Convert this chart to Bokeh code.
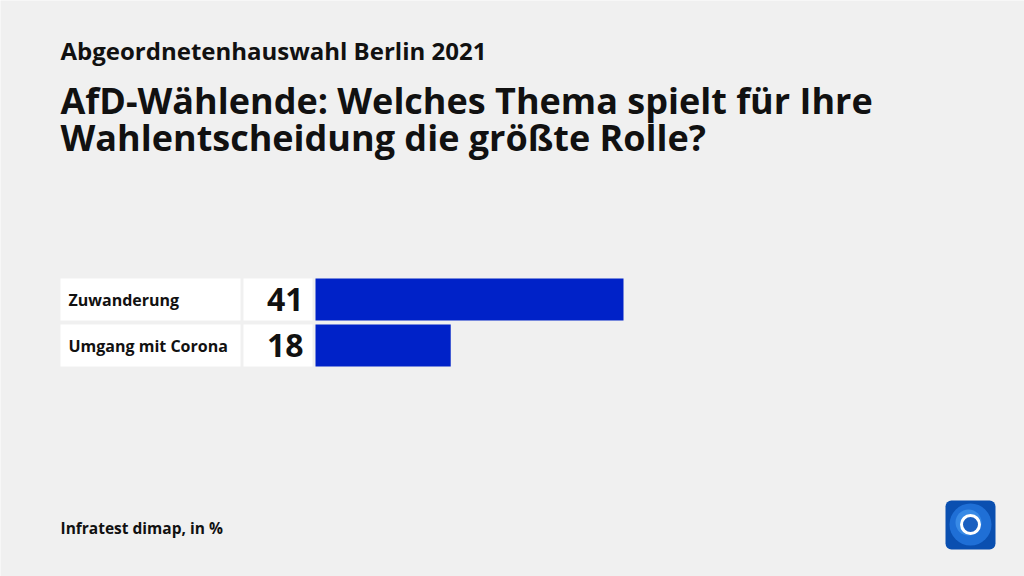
from bokeh.plotting import figure
from bokeh.models import Range1d
from bokeh.core.properties import value
from bokeh.embed import file_html
from bokeh.resources import INLINE

categories = ["Zuwanderung", "Umgang mit Corona"]
values = [41, 18]
supertitle = "Abgeordnetenhauswahl Berlin 2021"
title_lines = ["AfD-Wählende: Welches Thema spielt für Ihre", "Wahlentscheidung die größte Rolle?"]
source_note = "Infratest dimap, in %"

W, H = 1024, 576
X0, XS = 315.0, 308.0 / 41.0   # pixel of value 0, pixels per unit
Y0, YS = 299.0, 46.0           # pixel of row 0 center, pixels per row

def px(x):
    return (x - X0) / XS

def py(y):
    return (y - Y0) / YS

FONT = value("Open Sans")
BG = "#f0f0f0"
BLUE = "#0022c8"

p = figure(width=W, height=H, output_backend="svg", toolbar_location=None,
           x_range=Range1d(px(0), px(W)), y_range=Range1d(py(H), py(0)),
           min_border=0, background_fill_color=BG, border_fill_color=BG)
p.axis.visible = False
p.grid.visible = False
p.outline_line_color = None

rows = list(range(len(categories)))
bh = 42.0 / YS

# white label boxes
p.quad(left=px(60), right=px(240), top=[r - bh / 2 for r in rows], bottom=[r + bh / 2 for r in rows],
       fill_color="white", line_color=None)
p.quad(left=px(243), right=px(312), top=[r - bh / 2 for r in rows], bottom=[r + bh / 2 for r in rows],
       fill_color="white", line_color=None)
# bars
p.hbar(y=rows, left=0, right=values, height=bh, fill_color=BLUE, line_color=None)

p.text(x=px(68), y=rows, text=categories, text_font=FONT, text_font_style="bold",
       text_font_size="16px", text_baseline="middle", text_align="left", text_color="#111111")
p.text(x=px(303), y=rows, text=[str(v) for v in values], text_font=FONT, text_font_style="bold",
       text_font_size="32px", text_baseline="middle", text_align="right", text_color="#111111")

# titles
p.text(x=[px(60)], y=[py(50)], text=[supertitle], text_font=FONT, text_font_style="bold",
       text_font_size="24px", text_baseline="middle", text_color="#111111")
p.text(x=[px(60)] * 2, y=[py(100), py(137)], text=title_lines, text_font=FONT, text_font_style="bold",
       text_font_size="36px", text_baseline="middle", text_color="#111111")
p.text(x=[px(60)], y=[py(527)], text=[source_note], text_font=FONT, text_font_style="bold",
       text_font_size="15.5px", text_baseline="middle", text_color="#111111")

# logo
p.quad(left=px(945), right=px(995), top=py(500), bottom=py(549), fill_color="#0a4fb0", line_color=None,
       border_radius=6)
p.ellipse(x=px(970), y=py(524), width=42 / XS, height=42 / YS, fill_color="#1f6fd6", line_color=None)
p.ellipse(x=px(968), y=py(522), width=26 / XS, height=26 / YS, fill_color="#4a9cf0", line_color=None,
          fill_alpha=0.6)
p.ellipse(x=px(970), y=py(524), width=18 / XS, height=18 / YS, fill_color="#1a5fc0", line_color="white",
          line_width=3)

open("out.html", "w").write(file_html(p, INLINE))
